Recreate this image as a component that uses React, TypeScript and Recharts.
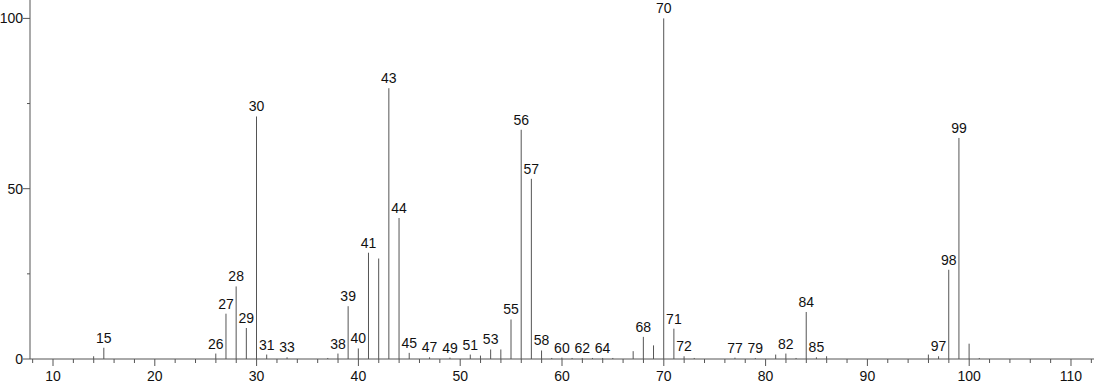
import { BarChart, Bar, XAxis, YAxis } from 'recharts';

const masses = [
  14, 15, 26, 27, 28, 29, 30, 31, 33, 37, 38, 39, 40, 41, 42, 43, 44, 45, 47, 49,
  51, 52, 53, 54, 55, 56, 57, 58, 59, 60, 61, 62, 63, 64, 65, 67, 68, 69, 70, 71,
  72, 73, 77, 79, 81, 82, 83, 84, 85, 86, 96, 97, 98, 99, 100, 101,
];
const intensities = [
  0.8, 3.3, 1.6, 13.3, 21.3, 9.1, 71.2, 1.3, 0.5, 0.3, 1.6, 15.5, 3.1, 31.2, 29.5, 79.5, 41.4, 1.8, 0.5, 0.4,
  1.3, 1.0, 2.8, 2.8, 11.6, 67.3, 52.9, 2.5, 0.3, 0.4, 0.3, 0.3, 0.3, 0.3, 0.3, 2.3, 6.5, 4.0, 100, 8.9,
  0.8, 0.3, 0.4, 0.3, 1.3, 1.6, 0.3, 13.8, 0.5, 0.8, 1.3, 0.8, 26.2, 64.9, 4.5, 0.3,
];
const labeledMasses = [
  15, 26, 27, 28, 29, 30, 31, 33, 38, 39, 40, 41, 43, 44, 45, 47, 49, 51, 53, 55,
  56, 57, 58, 60, 62, 64, 68, 70, 71, 72, 77, 79, 82, 84, 85, 97, 98, 99,
];
const xTicks = [
  8, 10, 12, 14, 16, 18, 20, 22, 24, 26, 28, 30, 32, 34, 36, 38, 40, 42, 44, 46, 48, 50, 52, 54,
  56, 58, 60, 62, 64, 66, 68, 70, 72, 74, 76, 78, 80, 82, 84, 86, 88, 90, 92, 94, 96, 98, 100,
  102, 104, 106, 108, 110, 112,
];
const yTicks = [0, 25, 50, 75, 100];

const data = masses.map((m, i) => ({
  mass: m,
  intensity: intensities[i],
  label: labeledMasses.includes(m) ? String(m) : '',
}));

const LINE = '#555';
const TEXT = '#111';

function Peak(props: any) {
  const { x, y, width, height, payload } = props;
  const cx = x + width / 2;
  return (
    <g>
      <line x1={cx} x2={cx} y1={y} y2={y + height} stroke={LINE} strokeWidth={1} />
      {payload.label && (
        <text x={cx} y={y - 5} textAnchor="middle" fontSize={14} fill={TEXT}>
          {payload.label}
        </text>
      )}
    </g>
  );
}

function XTick(props: any) {
  const { x, y, payload } = props;
  const major = payload.value % 10 === 0;
  return (
    <g>
      <line x1={x} x2={x} y1={y} y2={y + (major ? 7 : 4)} stroke={LINE} />
      {major && (
        <text x={x} y={y + 22} textAnchor="middle" fontSize={14} fill={TEXT}>
          {payload.value}
        </text>
      )}
    </g>
  );
}

function YTick(props: any) {
  const { x, y, payload } = props;
  const major = payload.value % 50 === 0;
  return (
    <g>
      <line x1={x - (major ? 7 : 3)} x2={x} y1={y} y2={y} stroke={LINE} />
      {major && (
        <text x={x - 7} y={y + 5} textAnchor="end" fontSize={14} fill={TEXT}>
          {payload.value}
        </text>
      )}
    </g>
  );
}

export default function App() {
  return (
    <div style={{ width: 1094, height: 384, fontFamily: '"Liberation Sans", Arial, sans-serif', background: '#fff' }}>
      <style>{'body{margin:0}'}</style>
      <BarChart
        width={1094}
        height={384}
        data={data}
        margin={{ top: 0, right: 0, left: 0, bottom: 0 }}
      >
        <XAxis
          type="number"
          dataKey="mass"
          domain={[7.74, 112.26]}
          allowDataOverflow
          ticks={xTicks}
          interval={0}
          tick={<XTick />}
          tickLine={false}
          tickSize={0}
          tickMargin={0}
          axisLine={{ stroke: LINE }}
          height={25}
        />
        <YAxis
          type="number"
          domain={[0, 105.4]}
          allowDataOverflow
          ticks={yTicks}
          interval={0}
          tick={<YTick />}
          tickLine={false}
          tickSize={0}
          tickMargin={0}
          axisLine={{ stroke: LINE }}
          width={30}
        />
        <Bar dataKey="intensity" barSize={2} shape={<Peak />} isAnimationActive={false} />
      </BarChart>
    </div>
  );
}
